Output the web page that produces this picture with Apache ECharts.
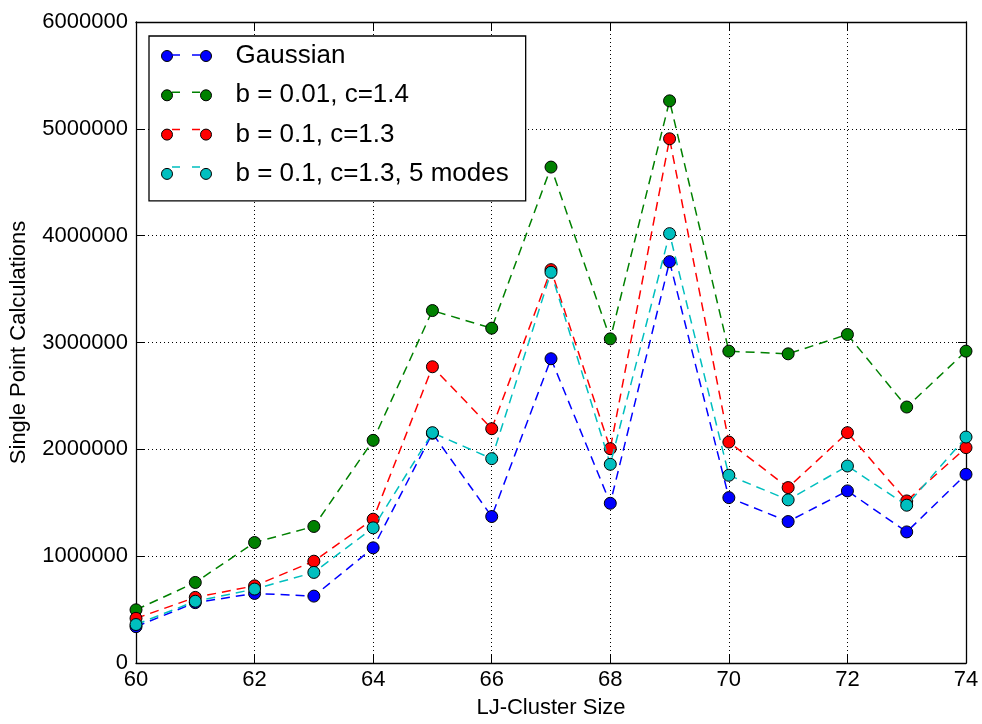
<!DOCTYPE html>
<html>
<head>
<meta charset="utf-8">
<title>Single Point Calculations vs LJ-Cluster Size</title>
<script src="https://cdn.jsdelivr.net/npm/echarts@6/dist/echarts.min.js"></script>
<style>
  html, body { margin: 0; padding: 0; background: #fff; }
  #chart { width: 982px; height: 724px; }
</style>
</head>
<body>
<div id="chart"></div>
<script>
// Cluster sizes along the x axis
const clusterSizes = [60, 61, 62, 63, 64, 65, 66, 67, 68, 69, 70, 71, 72, 73, 74];

// Single point calculations per method
const gaussian = [340000, 565000, 651000, 626000, 1078000, 2150000, 1371000, 2848000, 1495000, 3757000, 1548000, 1324000, 1611000, 1227000, 1766000];
const b001c14 = [498000, 754000, 1128000, 1278000, 2084000, 3299000, 3134000, 4642000, 3034000, 5262000, 2919000, 2894000, 3075000, 2396000, 2919000];
const b01c13 = [418000, 614000, 722000, 953000, 1346000, 2773000, 2193000, 3682000, 2006000, 4907000, 2068000, 1642000, 2156000, 1517000, 2016000];
const b01c13modes5 = [360000, 578000, 692000, 848000, 1265000, 2156000, 1913000, 3657000, 1860000, 4019000, 1757000, 1527000, 1844000, 1477000, 2115000];

const seriesNames = ['Gaussian', 'b = 0.01, c=1.4', 'b = 0.1, c=1.3', 'b = 0.1, c=1.3, 5 modes'];
const seriesValues = [gaussian, b001c14, b01c13, b01c13modes5];
const seriesColors = ['#0000ff', '#008000', '#ff0000', '#00bfbf'];

// Axis ticks
const xTicks = { min: 60, max: 74, interval: 2 };
const yTicks = { min: 0, max: 6000000, interval: 1000000 };

const FONT = "'Liberation Sans', Arial, Helvetica, sans-serif";

const chart = echarts.init(document.getElementById('chart'), null, { renderer: 'canvas' });

const gridLeft = 136, gridTop = 22, gridRight = 16, gridBottom = 60;

const tickStyle = { show: true, inside: true, length: 8, lineStyle: { color: '#000', width: 1 } };
const axisLineStyle = { show: true, onZero: false, lineStyle: { color: '#000', width: 1.3 } };
const gridLineStyle = { show: true, lineStyle: { color: '#000', width: 1, type: [1, 3] } };

// Legend marker: two circles joined by a dashed stroke
const legendIcon = 'path://M0,5.5a5.5,5.5 0 1,0 11,0a5.5,5.5 0 1,0 -11,0M39,5.5a5.5,5.5 0 1,0 11,0a5.5,5.5 0 1,0 -11,0';
const legendLeft = 149, legendTop = 36, legendPad = [7, 17, 14, 12];
const legendRowH = 24, legendGap = 13.3;

const legendDashes = seriesColors.map((c, i) => {
  const y = legendTop + legendPad[0] + legendRowH / 2 + i * (legendRowH + legendGap);
  return {
    type: 'line',
    z: 100,
    shape: { x1: legendLeft + legendPad[3] + 11, y1: y, x2: legendLeft + legendPad[3] + 39, y2: y },
    style: { stroke: c, lineWidth: 1.5, lineDash: [8, 12] }
  };
});

const option = {
  animation: false,
  backgroundColor: '#fff',
  textStyle: { fontFamily: FONT },
  grid: { left: gridLeft, top: gridTop, right: gridRight, bottom: gridBottom, containLabel: false },
  legend: {
    orient: 'vertical',
    left: legendLeft,
    top: legendTop,
    padding: legendPad,
    itemWidth: 50,
    itemHeight: 11,
    itemGap: legendGap,
    icon: legendIcon,
    backgroundColor: '#fff',
    borderColor: '#000',
    borderWidth: 1.3,
    borderRadius: 0,
    itemStyle: { borderColor: '#000', borderWidth: 1 },
    textStyle: { fontFamily: FONT, fontSize: 26, color: '#000', lineHeight: legendRowH, padding: [0, 0, 0, 19] },
    data: seriesNames,
    selectedMode: false
  },
  graphic: legendDashes,
  xAxis: [
    {
      type: 'value',
      min: xTicks.min, max: xTicks.max, interval: xTicks.interval,
      position: 'bottom',
      name: 'LJ-Cluster Size',
      nameLocation: 'middle',
      nameGap: 34,
      nameTextStyle: { fontFamily: FONT, fontSize: 22, color: '#000' },
      axisLine: axisLineStyle,
      axisTick: tickStyle,
      axisLabel: { show: true, margin: 6, fontFamily: FONT, fontSize: 22, color: '#000', formatter: v => String(v) },
      splitLine: gridLineStyle
    },
    {
      type: 'value',
      min: xTicks.min, max: xTicks.max, interval: xTicks.interval,
      position: 'top',
      axisLine: axisLineStyle,
      axisTick: tickStyle,
      axisLabel: { show: false },
      splitLine: { show: false }
    }
  ],
  yAxis: [
    {
      type: 'value',
      min: yTicks.min, max: yTicks.max, interval: yTicks.interval,
      position: 'left',
      name: 'Single Point Calculations',
      nameLocation: 'middle',
      nameGap: 106,
      nameRotate: 90,
      nameTextStyle: { fontFamily: FONT, fontSize: 22, color: '#000' },
      axisLine: axisLineStyle,
      axisTick: tickStyle,
      axisLabel: { show: true, margin: 8, fontFamily: FONT, fontSize: 22, color: '#000', formatter: v => String(v) },
      splitLine: gridLineStyle
    },
    {
      type: 'value',
      min: yTicks.min, max: yTicks.max, interval: yTicks.interval,
      position: 'right',
      axisLine: axisLineStyle,
      axisTick: tickStyle,
      axisLabel: { show: false },
      splitLine: { show: false }
    }
  ],
  series: seriesNames.map((name, i) => ({
    name,
    type: 'line',
    xAxisIndex: 0,
    yAxisIndex: 0,
    data: clusterSizes.map((x, j) => [x, seriesValues[i][j]]),
    symbol: 'circle',
    symbolSize: 12,
    showAllSymbol: true,
    clip: true,
    color: seriesColors[i],
    lineStyle: { color: seriesColors[i], width: 1.5, type: [9, 6] },
    itemStyle: { color: seriesColors[i], borderColor: '#000', borderWidth: 1 },
    emphasis: { disabled: true },
    z: 2 + i
  }))
};

chart.setOption(option);
</script>
</body>
</html>
